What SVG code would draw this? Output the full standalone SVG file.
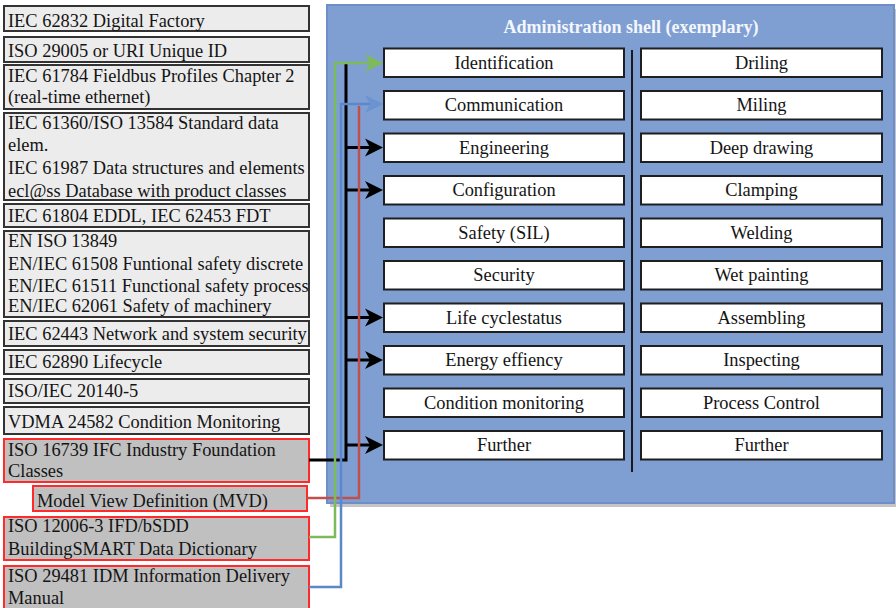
<svg xmlns="http://www.w3.org/2000/svg" width="896" height="608" viewBox="0 0 896 608">
  <style>
    text { font-size: 18.4px; fill: #141414; }
    .std rect { fill: #ececec; stroke: #333333; stroke-width: 2; }
    .bim rect { fill: #c0c0c0; stroke: #ff2a2a; stroke-width: 2; }
    .fn rect { fill: #ffffff; stroke: #1f1f1f; stroke-width: 2; }
    .fn text { text-anchor: middle; }
    .title { font-size: 18px; font-weight: bold; fill: #f4f6fb; text-anchor: middle; }
    .conn { fill: none; stroke-linejoin: miter; }
  </style>
  <defs>
    <marker id="arrBlack" viewBox="0 0 18 20" refX="5" refY="10" markerWidth="18" markerHeight="20" markerUnits="userSpaceOnUse" orient="auto">
      <path d="M0,1 L18,10 L0,19 L5,10 Z" fill="#000000"/>
    </marker>
    <marker id="arrGreen" viewBox="0 0 18 20" refX="5" refY="10" markerWidth="18" markerHeight="20" markerUnits="userSpaceOnUse" orient="auto">
      <path d="M0,1 L18,10 L0,19 L5,10 Z" fill="#7dba5b"/>
    </marker>
    <marker id="arrBlue" viewBox="0 0 18 20" refX="5" refY="10" markerWidth="18" markerHeight="20" markerUnits="userSpaceOnUse" orient="auto">
      <path d="M0,1 L18,10 L0,19 L5,10 Z" fill="#6b93cf"/>
    </marker>
  </defs>

  <rect width="896" height="608" fill="#ffffff"/>

  <g font-family="'Liberation Serif', 'Times New Roman', serif">
  <!-- Administration shell container -->
  <g id="admin-shell">
    <rect x="330" y="9" width="567" height="498" fill="#c4c4c4"/>
    <rect x="327" y="5" width="567" height="498" fill="#7f9fd3" stroke="#6d8ec8" stroke-width="2"/>
    <text class="title" x="631" y="33">Administration shell (exemplary)</text>
    <line x1="632" y1="50" x2="632" y2="472" stroke="#1a1a1a" stroke-width="2"/>
  </g>

  <!-- Standards column -->
  <g id="std-iec62832" class="std"><rect x="4" y="6" width="305" height="25"/><text x="8" y="26.5">IEC 62832 Digital Factory</text></g>
  <g id="std-iso29005" class="std"><rect x="4" y="37" width="305" height="25"/><text x="8" y="56.7">ISO 29005 or URI Unique ID</text></g>
  <g id="std-iec61784" class="std"><rect x="4" y="65" width="305" height="44"/><text x="8" y="82">IEC 61784 Fieldbus Profiles Chapter 2</text><text x="8" y="103">(real-time ethernet)</text></g>
  <g id="std-iec61360" class="std"><rect x="4" y="113" width="305" height="87"/><text x="8" y="128.5">IEC 61360/ISO 13584 Standard data</text><text x="8" y="151.3">elem.</text><text x="8" y="174">IEC 61987 Data structures and elements</text><text x="8" y="196.5">ecl@ss Database with product classes</text></g>
  <g id="std-iec61804" class="std"><rect x="4" y="204" width="305" height="23"/><text x="8" y="221.7">IEC 61804 EDDL, IEC 62453 FDT</text></g>
  <g id="std-en13849" class="std"><rect x="4" y="231" width="305" height="86"/><text x="8" y="247">EN ISO 13849</text><text x="8" y="269.5">EN/IEC 61508 Funtional safety discrete</text><text x="8" y="291.5">EN/IEC 61511 Functional safety process</text><text x="8" y="312">EN/IEC 62061 Safety of machinery</text></g>
  <g id="std-iec62443" class="std"><rect x="4" y="321" width="305" height="25"/><text x="8" y="340">IEC 62443 Network and system security</text></g>
  <g id="std-iec62890" class="std"><rect x="4" y="350" width="305" height="24"/><text x="8" y="368.3">IEC 62890 Lifecycle</text></g>
  <g id="std-iso20140" class="std"><rect x="4" y="379" width="305" height="24"/><text x="8" y="397.3">ISO/IEC 20140-5</text></g>
  <g id="std-vdma24582" class="std"><rect x="4" y="407" width="305" height="27"/><text x="8" y="428.3">VDMA 24582 Condition Monitoring</text></g>

  <!-- BIM standards -->
  <g id="bim-ifc" class="bim"><rect x="4" y="439" width="305" height="43"/><text x="8" y="455.5">ISO 16739 IFC Industry Foundation</text><text x="8" y="477">Classes</text></g>
  <g id="bim-mvd" class="bim"><rect x="33" y="486" width="274" height="25"/><text x="37" y="506.7">Model View Definition (MVD)</text></g>
  <g id="bim-ifd" class="bim"><rect x="4" y="517" width="305" height="43"/><text x="8" y="532">ISO 12006-3 IFD/bSDD</text><text x="8" y="555">BuildingSMART Data Dictionary</text></g>
  <g id="bim-idm" class="bim"><rect x="4" y="566" width="305" height="50"/><text x="8" y="582">ISO 29481 IDM Information Delivery</text><text x="8" y="603.5">Manual</text></g>

  <!-- Shell functions, left column -->
  <g id="fn-identification" class="fn"><rect x="384" y="48.5" width="240" height="28.5"/><text x="504" y="68.5">Identification</text></g>
  <g id="fn-communication" class="fn"><rect x="384" y="91" width="240" height="28.5"/><text x="504" y="111">Communication</text></g>
  <g id="fn-engineering" class="fn"><rect x="384" y="133.5" width="240" height="28.5"/><text x="504" y="153.5">Engineering</text></g>
  <g id="fn-configuration" class="fn"><rect x="384" y="176" width="240" height="28.5"/><text x="504" y="196">Configuration</text></g>
  <g id="fn-safety" class="fn"><rect x="384" y="218.5" width="240" height="28.5"/><text x="504" y="238.5">Safety (SIL)</text></g>
  <g id="fn-security" class="fn"><rect x="384" y="261" width="240" height="28.5"/><text x="504" y="281">Security</text></g>
  <g id="fn-lifecycle" class="fn"><rect x="384" y="303.5" width="240" height="28.5"/><text x="504" y="323.5">Life cyclestatus</text></g>
  <g id="fn-energy" class="fn"><rect x="384" y="346" width="240" height="28.5"/><text x="504" y="366">Energy effiency</text></g>
  <g id="fn-condition" class="fn"><rect x="384" y="388.5" width="240" height="28.5"/><text x="504" y="408.5">Condition monitoring</text></g>
  <g id="fn-further-l" class="fn"><rect x="384" y="431" width="240" height="28.5"/><text x="504" y="451">Further</text></g>

  <!-- Shell functions, right column -->
  <g id="fn-drilling" class="fn"><rect x="641" y="48.5" width="241" height="28.5"/><text x="761.5" y="68.5">Driling</text></g>
  <g id="fn-milling" class="fn"><rect x="641" y="91" width="241" height="28.5"/><text x="761.5" y="111">Miling</text></g>
  <g id="fn-deepdrawing" class="fn"><rect x="641" y="133.5" width="241" height="28.5"/><text x="761.5" y="153.5">Deep drawing</text></g>
  <g id="fn-clamping" class="fn"><rect x="641" y="176" width="241" height="28.5"/><text x="761.5" y="196">Clamping</text></g>
  <g id="fn-welding" class="fn"><rect x="641" y="218.5" width="241" height="28.5"/><text x="761.5" y="238.5">Welding</text></g>
  <g id="fn-wetpainting" class="fn"><rect x="641" y="261" width="241" height="28.5"/><text x="761.5" y="281">Wet painting</text></g>
  <g id="fn-assembling" class="fn"><rect x="641" y="303.5" width="241" height="28.5"/><text x="761.5" y="323.5">Assembling</text></g>
  <g id="fn-inspecting" class="fn"><rect x="641" y="346" width="241" height="28.5"/><text x="761.5" y="366">Inspecting</text></g>
  <g id="fn-process" class="fn"><rect x="641" y="388.5" width="241" height="28.5"/><text x="761.5" y="408.5">Process Control</text></g>
  <g id="fn-further-r" class="fn"><rect x="641" y="431" width="241" height="28.5"/><text x="761.5" y="451">Further</text></g>
  </g>

  <!-- Connectors -->
  <g id="connectors" class="conn">
    <!-- IFC trunk and branches -->
    <polyline points="309,460 346,460 346,64" stroke="#000000" stroke-width="3"/>
    <line x1="346" y1="147.5" x2="370" y2="147.5" stroke="#000000" stroke-width="3" marker-end="url(#arrBlack)"/>
    <line x1="346" y1="190" x2="370" y2="190" stroke="#000000" stroke-width="3" marker-end="url(#arrBlack)"/>
    <line x1="346" y1="317.5" x2="370" y2="317.5" stroke="#000000" stroke-width="3" marker-end="url(#arrBlack)"/>
    <line x1="346" y1="360" x2="370" y2="360" stroke="#000000" stroke-width="3" marker-end="url(#arrBlack)"/>
    <line x1="346" y1="445" x2="370" y2="445" stroke="#000000" stroke-width="3" marker-end="url(#arrBlack)"/>
    <!-- MVD -->
    <polyline points="307,498 359,498 359,106" stroke="#c0504d" stroke-width="2.5"/>
    <!-- IFD/bSDD to Identification -->
    <polyline points="309,537 335,537 335,63 370,63" stroke="#7dba5b" stroke-width="2.5" marker-end="url(#arrGreen)"/>
    <!-- IDM to Communication -->
    <polyline points="309,587 341,587 341,104 370,104" stroke="#5a88c8" stroke-width="2.5" marker-end="url(#arrBlue)"/>
  </g>
</svg>
